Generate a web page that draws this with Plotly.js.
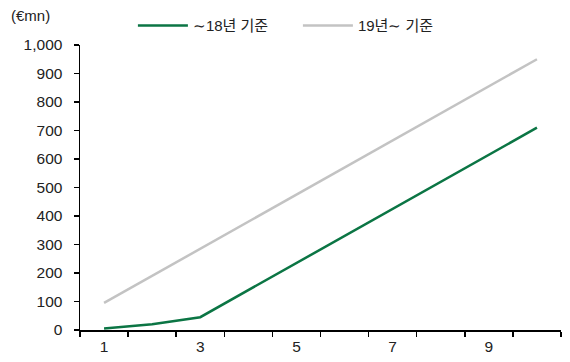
<!DOCTYPE html>
<html>
<head>
<meta charset="utf-8">
<script src="https://cdn.plot.ly/plotly-3.0.1.min.js"></script>
<style>
  html, body { margin: 0; padding: 0; background: #fff; }
  #chart { width: 570px; height: 362px; }
</style>
</head>
<body>
<div id="chart"></div>
<script>
// Periods on the category axis
const periods = ["1", "2", "3", "4", "5", "6", "7", "8", "9", "10"];
// Only odd periods carry a visible label
const periodLabels = ["1", "", "3", "", "5", "", "7", "", "9", ""];
// Cumulative amount (€mn) under each standard
const upTo18 = [5, 20, 45, 140, 235, 330, 425, 520, 615, 710];
const from19 = [95, 190, 285, 380, 475, 570, 665, 760, 855, 950];
const seriesNames = ["∼18년 기준", "19년∼ 기준"];
const yTicks = [0, 100, 200, 300, 400, 500, 600, 700, 800, 900, 1000];

const font = "Liberation Sans, Noto Sans CJK KR, Arial, sans-serif";

const traces = [
  {
    x: periods, y: upTo18, name: seriesNames[0], type: "scatter", mode: "lines",
    line: { color: "#0b7544", width: 2.5 }
  },
  {
    x: periods, y: from19, name: seriesNames[1], type: "scatter", mode: "lines",
    line: { color: "#c3c3c3", width: 2.5 }
  }
];

const layout = {
  width: 570, height: 362,
  margin: { l: 80, r: 9, t: 45, b: 32 },
  paper_bgcolor: "#fff", plot_bgcolor: "#fff",
  font: { family: font, size: 15.5, color: "#222" },
  showlegend: true,
  legend: {
    orientation: "h", x: 0.11, xanchor: "left", y: 1.01, yanchor: "bottom",
    font: { family: "Liberation Sans, Noto Sans CJK KR, sans-serif", size: 15, color: "#222" },
    itemwidth: 50, traceorder: "normal",
    entrywidth: 100, entrywidthmode: "pixels"
  },
  xaxis: {
    type: "category", range: [-0.5, 9.5],
    tickmode: "array", tickvals: periods, ticktext: periodLabels,
    tickson: "boundaries", ticks: "outside", ticklen: 5, tickwidth: 1.5, tickcolor: "#000",
    showline: true, linecolor: "#000", linewidth: 1.5,
    showgrid: false, zeroline: false, ticklabelstandoff: 2,
    tickfont: { size: 15.5, color: "#222" }
  },
  yaxis: {
    range: [0, 1000], tickmode: "array", tickvals: yTicks,
    tickformat: ",d",
    ticks: "outside", ticklen: 5, tickwidth: 1.5, tickcolor: "#000",
    showline: true, linecolor: "#000", linewidth: 1.5,
    showgrid: false, zeroline: false, ticklabelstandoff: 8,
    tickfont: { size: 15.5, color: "#222" }
  },
  annotations: [
    {
      text: "(€mn)", xref: "paper", yref: "paper", x: -0.148, y: 1.105,
      xanchor: "left", yanchor: "middle", showarrow: false,
      font: { size: 15, color: "#222" }
    }
  ]
};

Plotly.newPlot("chart", traces, layout, { staticPlot: true, displayModeBar: false });
</script>
</body>
</html>
